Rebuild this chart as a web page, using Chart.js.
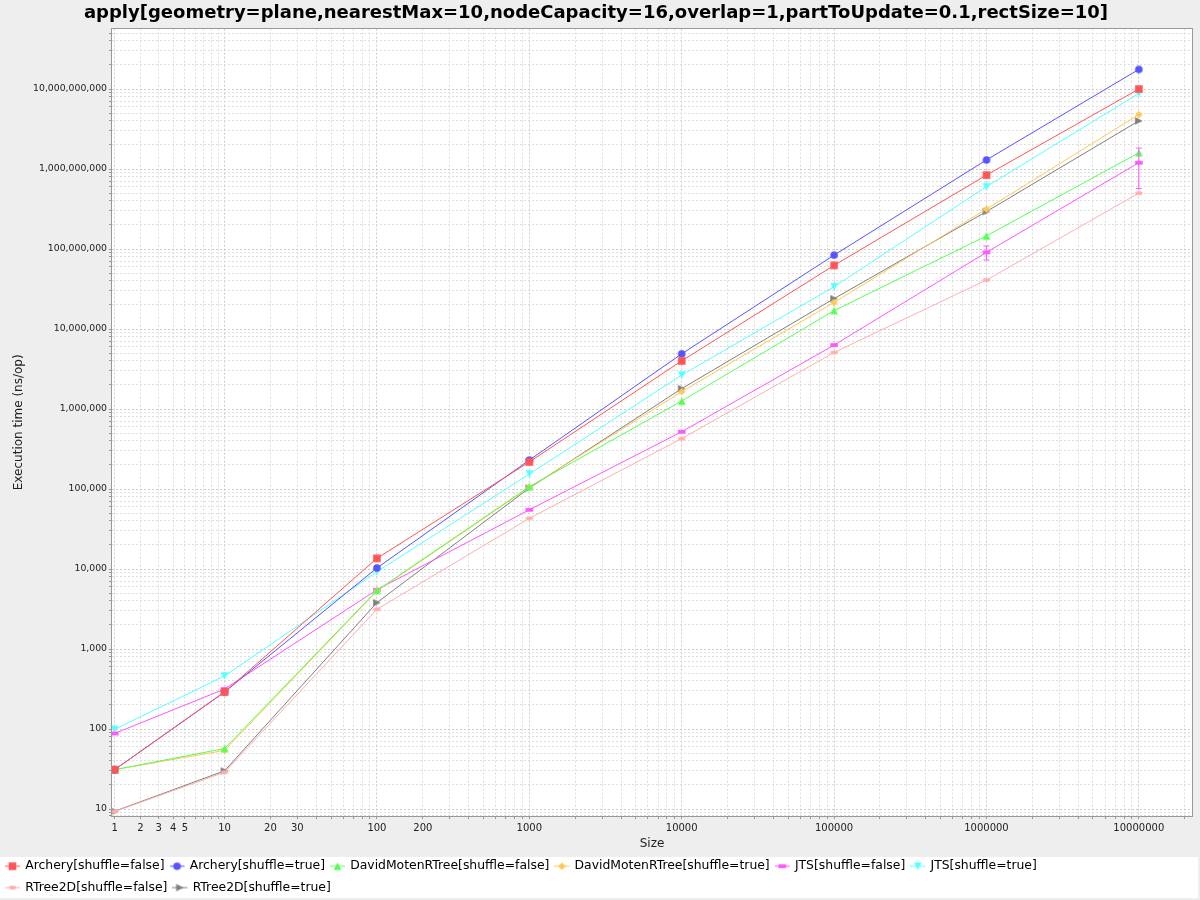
<!DOCTYPE html>
<html>
<head>
<meta charset="utf-8">
<script src="https://cdn.jsdelivr.net/npm/chart.js@4.4.0/dist/chart.umd.min.js"></script>
<style>
html, body { margin: 0; padding: 0; background: #eeeeee; }
</style>
</head>
<body>
<canvas id="chart" width="1200" height="900"></canvas>
<script>
'use strict';

// benchmark sizes (x) and execution times in ns/op (y)
const sizes = [1, 10, 100, 1000, 10000, 100000, 1000000, 10000000];

const archeryFalse = [31, 290, 13600, 218000, 4000000, 62500000, 840000000, 10000000000];
const archeryTrue = [31, 290, 10300, 230000, 4900000, 84000000, 1300000000, 17600000000];
const davidFalse = [31, 57, 5400, 107000, 1260000, 17000000, 146000000, 1600000000];
const davidTrue = [31, 54, 5300, 105000, 1650000, 21500000, 316000000, 4800000000];
const jtsFalse = [88, 316, 5500, 55000, 520000, 6300000, 91000000, 1200000000];
const jtsTrue = [99, 460, 9250, 154000, 2660000, 33800000, 603000000, 8800000000];
const rtreeFalse = [9.2, 28.8, 3140, 43000, 427000, 5100000, 41000000, 500000000];
const rtreeTrue = [9.3, 30, 3800, 103000, 1800000, 24000000, 294000000, 4000000000];

const jtsFalseErr = [0, 0, 0, 0, 0, 0, 18000000, 630000000];

const seriesNames = [
	'Archery[shuffle=false]', 'Archery[shuffle=true]',
	'DavidMotenRTree[shuffle=false]', 'DavidMotenRTree[shuffle=true]',
	'JTS[shuffle=false]', 'JTS[shuffle=true]',
	'RTree2D[shuffle=false]', 'RTree2D[shuffle=true]'
];
const seriesValues = [archeryFalse, archeryTrue, davidFalse, davidTrue, jtsFalse, jtsTrue, rtreeFalse, rtreeTrue];
const seriesErrors = [null, null, null, null, jtsFalseErr, null, null, null];
const seriesColors = ['#ff5555', '#5555ff', '#55ff55', '#ffc855', '#ff55ff', '#55ffff', '#ffafaf', '#808080'];
const seriesShapes = ['square', 'circle', 'up', 'diamond', 'hrect', 'down', 'hellipse', 'right'];

const xLabelled = [1, 2, 3, 4, 5, 10, 20, 30, 100, 200, 1000, 10000, 100000, 1000000, 10000000];

// log axis that squeezes values below 10 (as the original plot does)
function adj(v) {
	return Math.log10(v < 10 ? v + (10 - v) / 10 : v);
}

const xMin = 0.2613, xMax = 7.349;
const yMin = 0.9125, yMax = 10.756;

function logTicks(lo, hi, maxExp) {
	let out = [];
	for (let n = 0; n <= maxExp; n++) {
		for (let m = 1; m <= 9; m++) {
			let v = m * Math.pow(10, n);
			let a = adj(v);
			if (a >= lo && a <= hi) {
				out.push({value: a, orig: v, major: m === 1});
			}
		}
	}
	return out;
}

function drawShape(ctx, shape, cx, cy, r) {
	ctx.beginPath();
	switch (shape) {
		case 'square': ctx.rect(cx - r, cy - r, 2 * r, 2 * r); break;
		case 'circle': ctx.arc(cx, cy, r, 0, Math.PI * 2); break;
		case 'up': ctx.moveTo(cx, cy - r); ctx.lineTo(cx + r, cy + r); ctx.lineTo(cx - r, cy + r); break;
		case 'diamond': ctx.moveTo(cx, cy - r); ctx.lineTo(cx + r, cy); ctx.lineTo(cx, cy + r); ctx.lineTo(cx - r, cy); break;
		case 'hrect': ctx.rect(cx - r, cy - r / 2, 2 * r, r); break;
		case 'down': ctx.moveTo(cx - r, cy - r); ctx.lineTo(cx + r, cy - r); ctx.lineTo(cx, cy + r); break;
		case 'hellipse': ctx.ellipse(cx, cy, r, r / 2, 0, 0, Math.PI * 2); break;
		case 'right': ctx.moveTo(cx - r, cy - r); ctx.lineTo(cx + r, cy); ctx.lineTo(cx - r, cy + r); break;
	}
	ctx.closePath();
	ctx.fill();
}

// lineLen > 0 adds the short legend line through the marker
function makeMarker(shape, color, w, h, lineLen) {
	let c = document.createElement('canvas');
	c.width = w;
	c.height = h;
	let ctx = c.getContext('2d');
	let cx = lineLen ? lineLen / 2 : w / 2;
	if (lineLen) {
		ctx.strokeStyle = color;
		ctx.lineWidth = 1;
		ctx.beginPath();
		ctx.moveTo(0, h / 2);
		ctx.lineTo(lineLen, h / 2);
		ctx.stroke();
	}
	ctx.fillStyle = color;
	drawShape(ctx, shape, cx, h / 2, 3.8);
	return c;
}

const plotMarks = seriesShapes.map((s, i) => makeMarker(s, seriesColors[i], 10, 10, 0));
const legendMarks = seriesShapes.map((s, i) => makeMarker(s, seriesColors[i], 18, 10, 15));

const datasets = seriesNames.map((name, i) => ({
	label: name,
	data: sizes.map((s, j) => ({x: adj(s), y: adj(seriesValues[i][j])})),
	borderColor: seriesColors[i],
	backgroundColor: seriesColors[i],
	borderWidth: 1,
	pointStyle: plotMarks[i],
	pointRadius: 4,
	tension: 0
}));

const backdrop = {
	id: 'backdrop',
	beforeDraw(chart) {
		const {ctx, chartArea: a, legend} = chart;
		ctx.save();
		ctx.fillStyle = '#eeeeee';
		ctx.fillRect(0, 0, chart.width, chart.height);
		ctx.fillStyle = '#ffffff';
		ctx.fillRect(a.left, a.top, a.right - a.left, a.bottom - a.top);
		// legend strip sits a little below the legend box top
		ctx.fillRect(0, legend.top + 6, chart.width - 2, legend.height - 6);
		ctx.restore();
	},
	afterDatasetsDraw(chart) {
		const {ctx, scales} = chart;
		ctx.save();
		ctx.lineWidth = 1;
		seriesErrors.forEach((errs, i) => {
			if (!errs) return;
			ctx.strokeStyle = seriesColors[i];
			errs.forEach((e, j) => {
				if (!e) return;
				let v = seriesValues[i][j];
				let x = scales.x.getPixelForValue(adj(sizes[j]));
				let top = scales.y.getPixelForValue(adj(v + e));
				let bot = scales.y.getPixelForValue(adj(v - e));
				ctx.beginPath();
				ctx.moveTo(x, top); ctx.lineTo(x, bot);
				ctx.moveTo(x - 3, top); ctx.lineTo(x + 3, top);
				ctx.moveTo(x - 3, bot); ctx.lineTo(x + 3, bot);
				ctx.stroke();
			});
		});
		ctx.restore();
	},
	afterDraw(chart) {
		const {ctx, chartArea: a} = chart;
		ctx.save();
		ctx.strokeStyle = '#999999';
		ctx.lineWidth = 1;
		ctx.strokeRect(Math.round(a.left) - 0.5, Math.round(a.top) - 0.5, Math.round(a.right - a.left) + 1, Math.round(a.bottom - a.top) + 1);
		ctx.restore();
	}
};

const gridColor = (c) => (c.tick && c.tick.major) ? '#cccccc' : '#dedede';

new Chart(document.getElementById('chart'), {
	type: 'line',
	data: {datasets: datasets},
	plugins: [backdrop],
	options: {
		responsive: false,
		animation: false,
		devicePixelRatio: 1,
		layout: {padding: {left: 0, right: 8, top: 1, bottom: 2}},
		plugins: {
			title: {
				display: true,
				text: 'apply[geometry=plane,nearestMax=10,nodeCapacity=16,overlap=1,partToUpdate=0.1,rectSize=10]',
				color: '#000000',
				font: {family: 'DejaVu Sans', size: 18, weight: 'bold'},
				padding: {top: 2, bottom: 4}
			},
			legend: {
				position: 'bottom',
				align: 'start',
				maxHeight: 47,
				labels: {
					usePointStyle: true,
					pointStyleWidth: 10,
					padding: 9,
					color: '#000000',
					font: {family: 'DejaVu Sans', size: 12.4},
					generateLabels: (chart) => chart.data.datasets.map((ds, i) => ({
						text: ds.label,
						pointStyle: legendMarks[i],
						datasetIndex: i,
						hidden: false,
						lineWidth: 0,
						fillStyle: seriesColors[i],
						strokeStyle: seriesColors[i],
						fontColor: '#000000'
					}))
				}
			},
			tooltip: {enabled: false}
		},
		scales: {
			x: {
				type: 'linear',
				min: xMin,
				max: xMax,
				afterFit: (scale) => { scale.height = 35; },
				afterBuildTicks: (scale) => { scale.ticks = logTicks(xMin, xMax, 7); },
				ticks: {
					autoSkip: false,
					maxRotation: 0,
					padding: 3,
					color: '#222222',
					font: {family: 'DejaVu Sans', size: 10},
					callback: (value, index, ticks) => xLabelled.includes(ticks[index].orig) ? String(ticks[index].orig) : ''
				},
				grid: {color: gridColor, tickLength: 3, tickColor: '#999999'},
				border: {display: false, dash: [2, 2]},
				title: {
					display: true,
					text: 'Size',
					color: '#222222',
					font: {family: 'DejaVu Sans', size: 12},
					padding: {top: 0, bottom: 0}
				}
			},
			y: {
				type: 'linear',
				min: yMin,
				max: yMax,
				afterFit: (scale) => { scale.width = 112; },
				afterBuildTicks: (scale) => { scale.ticks = logTicks(yMin, yMax, 10); },
				ticks: {
					autoSkip: false,
					padding: 2,
					color: '#222222',
					font: {family: 'DejaVu Sans', size: 9.3},
					callback: (value, index, ticks) => {
						let v = ticks[index].orig;
						return (ticks[index].major && v >= 10) ? v.toLocaleString('en-US') : '';
					}
				},
				grid: {color: gridColor, tickLength: 3, tickColor: '#999999'},
				border: {display: false, dash: [2, 2]},
				title: {
					display: true,
					text: 'Execution time (ns/op)',
					color: '#222222',
					font: {family: 'DejaVu Sans', size: 12},
					padding: {top: 12, bottom: 0}
				}
			}
		}
	}
});
</script>
</body>
</html>
